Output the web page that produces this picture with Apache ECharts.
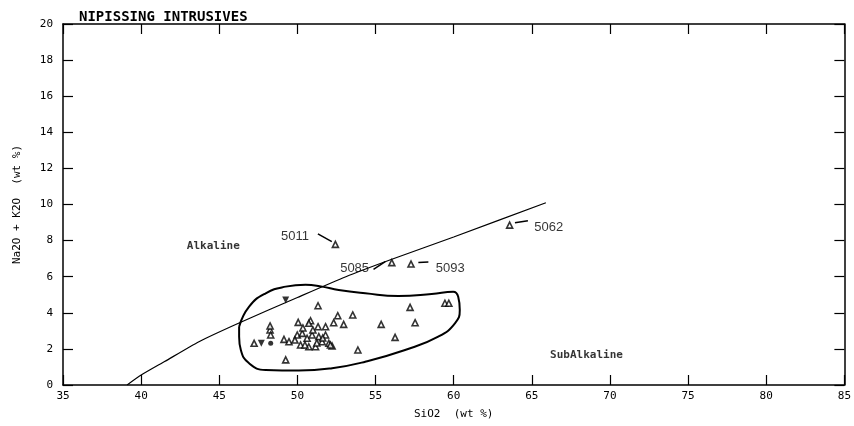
<!DOCTYPE html>
<html>
<head>
<meta charset="utf-8">
<script src="https://cdn.jsdelivr.net/npm/echarts@6/dist/echarts.min.js"></script>
<style>
  html, body { margin: 0; padding: 0; background: #fff; }
  #chart { width: 854px; height: 426px; }
</style>
</head>
<body>
<div id="chart"></div>
<script>
// Alkaline / SubAlkaline divider (SiO2, Na2O+K2O)
const dividerLine = [[39.1, 0], [40, 0.55], [41.5, 1.3], [43.7, 2.4], [46.3, 3.45], [50, 4.85], [53.1, 6.0], [56, 6.95], [60, 8.2], [65.9, 10.1]]

// outline of the main sample field
const fieldOutline = [
  [46.27, 3.23], [46.27, 2.68], [46.38, 1.94], [46.91, 1.2], [47.97, 0.83], [50.1, 0.8],
  [52.22, 0.93], [54.34, 1.29], [56.89, 1.94], [59.01, 2.68], [60.08, 3.42], [60.39, 4.16],
  [60.29, 4.89], [59.97, 5.17], [58.59, 5.04], [56.46, 4.93], [54.34, 5.08], [52.64, 5.26],
  [51.58, 5.45], [50.52, 5.56], [49.25, 5.45], [47.97, 5.08], [46.91, 4.34], [46.27, 3.23]
]

// samples (triangles)
const samples = [
  [51.32, 4.39], [52.58, 3.84], [52.32, 3.45], [52.96, 3.36], [50.05, 3.47], [50.84, 3.56],
  [50.73, 3.42], [51.32, 3.23], [48.25, 3.05], [48.29, 2.77], [47.23, 2.31], [49.14, 2.53],
  [49.46, 2.40], [49.99, 2.77], [50.31, 2.86], [50.62, 2.59], [50.94, 2.77], [51.37, 2.68],
  [51.80, 2.77], [50.20, 2.22], [50.73, 2.12], [51.16, 2.12], [51.58, 2.40], [52.01, 2.31],
  [52.22, 2.16], [50.48, 2.22], [49.25, 1.39], [51.80, 3.23], [53.54, 3.88], [57.21, 4.30],
  [59.44, 4.53], [59.69, 4.53], [55.36, 3.36], [57.53, 3.45], [56.25, 2.64], [53.87, 1.94],
  [52.11, 2.22], [50.35, 3.16], [50.99, 3.05], [49.84, 2.49], [51.24, 2.33], [51.62, 2.60],
  [48.25, 3.27],
  [52.43, 7.79], [56.04, 6.78], [57.27, 6.70], [63.58, 8.86]
]
const samplesDown = [[49.25, 4.71], [47.69, 2.31]]
const samplesDot = [[48.29, 2.31]]

// sample number labels and their leader lines
const sampleNames = ['5011', '5085', '5093', '5062']
const namePos = [[49.84, 8.25], [53.66, 6.48], [59.78, 6.48], [66.08, 8.75]]
const leaders = [
  [[51.31, 8.37], [52.2, 7.94]],
  [[54.87, 6.41], [55.62, 6.83]],
  [[57.74, 6.78], [58.38, 6.81]],
  [[63.92, 8.99], [64.75, 9.1]]
]

const regionNames = ['Alkaline', 'SubAlkaline']
const regionPos = [[44.62, 7.7], [68.5, 1.63]]

const mono = 'DejaVu Sans Mono'

const boxAxis = (pos, show) => ({
  type: 'value',
  position: pos,
  axisLine: { show: true, onZero: false, lineStyle: { color: '#000', width: 1.5 } },
  axisTick: { show: true, inside: true, length: 10, lineStyle: { color: '#000', width: 1.2 } },
  axisLabel: { show: show, color: '#000', fontFamily: mono, fontSize: 11 },
  splitLine: { show: false }
})

let xBottom = Object.assign(boxAxis('bottom', true), {
  min: 35, max: 85, interval: 5,
  name: 'SiO2  (wt %)', nameLocation: 'middle', nameGap: 24,
  nameTextStyle: { color: '#000', fontFamily: mono, fontSize: 11 }
})
xBottom.axisLabel.margin = 6
let xTop = Object.assign(boxAxis('top', false), { min: 35, max: 85, interval: 5 })
let yLeft = Object.assign(boxAxis('left', true), {
  min: 0, max: 20, interval: 2,
  name: 'Na2O + K2O  (wt %)', nameLocation: 'middle', nameGap: 40,
  nameTextStyle: { color: '#000', fontFamily: mono, fontSize: 11 }
})
yLeft.axisLabel.margin = 10
let yRight = Object.assign(boxAxis('right', false), { min: 0, max: 20, interval: 2 })

let myChart = echarts.init(document.getElementById('chart'))
myChart.setOption({
  animation: false,
  backgroundColor: '#fff',
  title: {
    text: 'NIPISSING INTRUSIVES',
    left: 74, top: 5,
    textStyle: { color: '#000', fontFamily: mono, fontSize: 14, fontWeight: 'bold' }
  },
  grid: { left: 63, right: 6, top: 24, bottom: 41 },
  xAxis: [xBottom, xTop],
  yAxis: [yLeft, yRight],
  series: [
    {
      type: 'line', data: dividerLine, symbol: 'none', smooth: 0.2,
      lineStyle: { color: '#000', width: 1.2 }
    },
    {
      type: 'line', data: fieldOutline, symbol: 'none', smooth: 0.5,
      lineStyle: { color: '#000', width: 2 }
    },
    {
      type: 'scatter', data: samples, symbol: 'triangle', symbolSize: 6,
      itemStyle: { color: '#fff', borderColor: '#000', borderWidth: 1.6 }
    },
    {
      type: 'scatter', data: samplesDown, symbol: 'triangle', symbolRotate: 180, symbolSize: 7,
      itemStyle: { color: '#000' }
    },
    {
      type: 'scatter', data: samplesDot, symbol: 'circle', symbolSize: 5,
      itemStyle: { color: '#000' }
    },
    {
      type: 'lines', coordinateSystem: 'cartesian2d', polyline: false,
      data: leaders.map(c => ({ coords: c })),
      lineStyle: { color: '#000', width: 1.5, opacity: 1 }
    },
    {
      type: 'scatter', symbolSize: 0,
      data: sampleNames.map((n, i) => ({ name: n, value: namePos[i] })),
      label: {
        show: true, position: 'inside', formatter: '{b}',
        color: '#000', fontFamily: 'Liberation Sans', fontSize: 13
      }
    },
    {
      type: 'scatter', symbolSize: 0,
      data: regionNames.map((n, i) => ({ name: n, value: regionPos[i] })),
      label: {
        show: true, position: 'inside', formatter: '{b}',
        color: '#000', fontFamily: mono, fontSize: 11, fontWeight: 'bold'
      }
    }
  ]
})
</script>
</body>
</html>
